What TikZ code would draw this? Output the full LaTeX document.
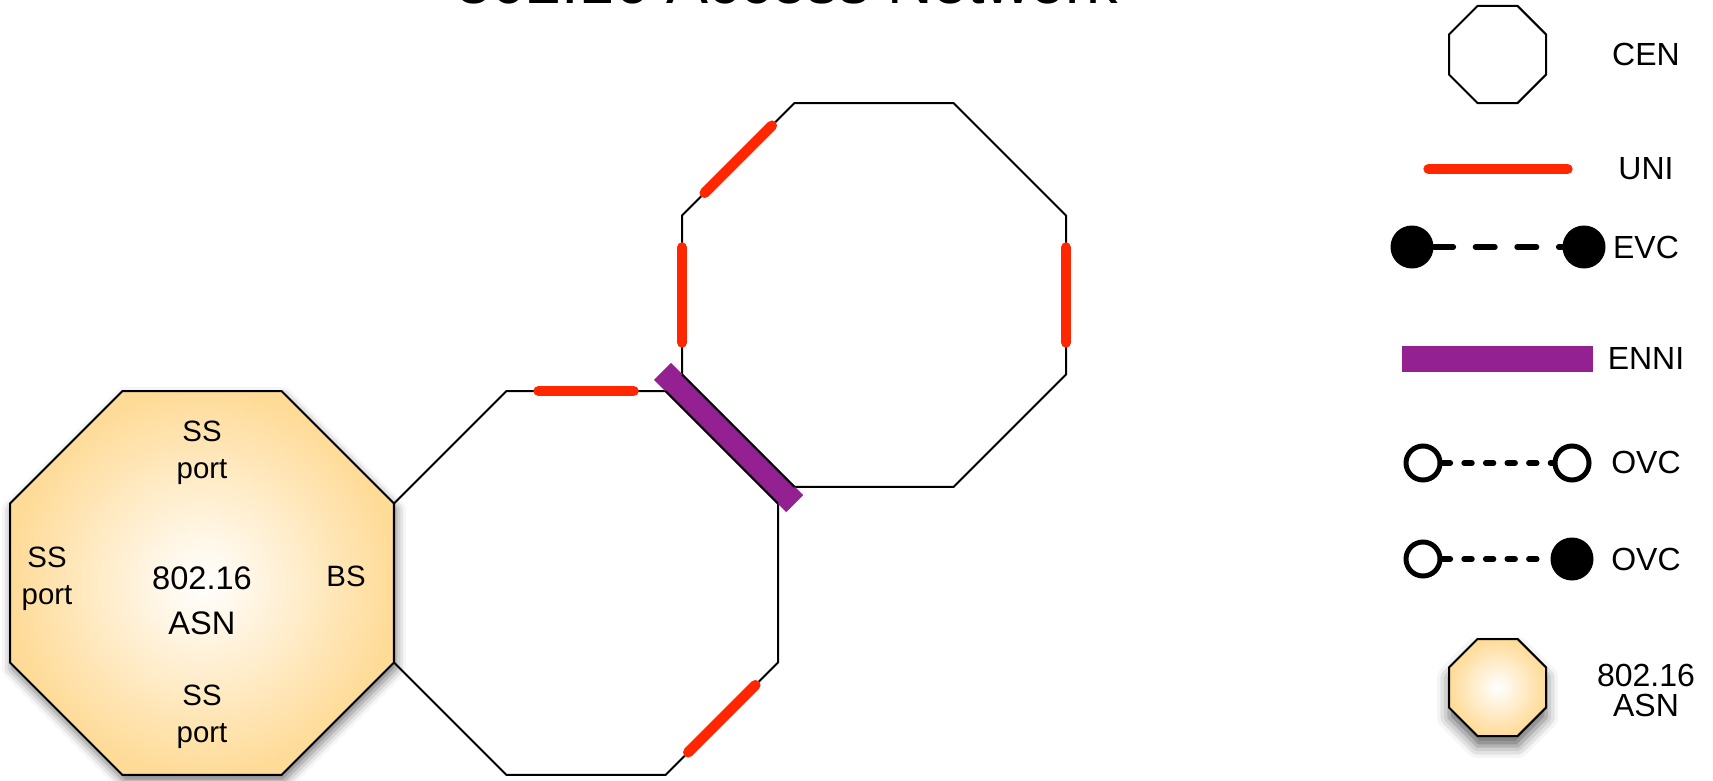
\documentclass[tikz,border=0pt]{standalone}
\usepackage{fontspec}
\setmainfont{Liberation Sans}
\usetikzlibrary{arrows.meta,positioning,calc,shapes.geometric,shadows.blur}

\definecolor{unired}{RGB}{255,38,0}
\definecolor{ennipurple}{RGB}{148,33,146}
\definecolor{asnorange}{RGB}{255,219,152}

\begin{document}
\begin{tikzpicture}[
  x=0.5pt, y=-0.5pt,
  cen/.style={regular polygon, regular polygon sides=8, draw=black,
    line width=1pt, inner sep=0pt, outer sep=0pt, minimum size=#1},
  cen/.default=207.8pt,
  asn/.style={cen=#1, shading=radial, inner color=white,
    outer color=asnorange},
  asn/.default=207.8pt,
  uni/.style={draw=unired, line width=5.2pt, line cap=round},
  onedge/.style={shorten <=16pt, shorten >=16pt},
  enni/.style={draw=ennipurple, line width=12pt},
  evcdot/.style={circle, fill=black, inner sep=0pt, minimum size=21.5pt},
  ovcring/.style={circle, draw=black, fill=white, line width=2.5pt,
    inner sep=0pt, minimum size=17pt},
  ovcdot/.style={circle, fill=black, inner sep=0pt, minimum size=21.5pt},
  evcline/.style={line width=2.8pt, line cap=round,
    dash pattern=on 9.7pt off 11.1pt},
  ovcline/.style={line width=2.8pt, line cap=round,
    dash pattern=on 3.9pt off 6.9pt},
  portlbl/.style={align=center, inner sep=0pt,
    font=\fontsize{14.7}{18.3}\selectfont},
  asnlbl/.style={align=center, inner sep=0pt,
    font=\fontsize{16.3}{22.5}\selectfont},
  keylbl/.style={align=center, inner sep=0pt,
    font=\fontsize{16}{15}\selectfont}
]
  \clip (0,0) rectangle (1713,781);
  \node[anchor=base, inner sep=0pt, font=\fontsize{31.5}{36}\selectfont]
    (title) at (787.5,4) {802.16 Access Network};

  \node[asn, blur shadow={shadow xshift=1pt, shadow yshift=-3pt,
    shadow blur radius=5pt, shadow opacity=55}] (asn) at (202,583) {};
  \node[cen, right=0pt of asn] (mid) {};
  \node[cen] (top) at ([shift={(288,-288)}]mid.center) {};

  \node[asnlbl] (asnname) at ([shift={(0,18)}]asn.center) {802.16\\ASN};
  \node[portlbl] (sstop) at ([shift={(0,-130)}]asn.center) {SS\\port};
  \node[portlbl] (ssleft) at ([shift={(-155,-4)}]asn.center) {SS\\port};
  \node[portlbl] (ssbot) at ([shift={(0,134)}]asn.center) {SS\\port};
  \node[portlbl] (bs) at ([shift={(144,-7)}]asn.center) {BS};

  \draw[enni, shorten <=-8pt, shorten >=-6pt]
    ($(mid.corner 1)!0.5!(top.corner 4)$) -- ($(mid.corner 8)!0.5!(top.corner 5)$);
  \draw[black, line width=1pt] (mid.corner 8) -- (mid.corner 1);
  \draw[black, line width=1pt] (top.corner 4) -- (top.corner 5);

  \draw[uni, onedge] (mid.corner 1) -- (mid.corner 2);
  \draw[uni, onedge] (mid.corner 6) -- (mid.corner 7);
  \draw[uni, onedge] (top.corner 2) -- (top.corner 3);
  \draw[uni, onedge] (top.corner 3) -- (top.corner 4);
  \draw[uni, onedge] (top.corner 7) -- (top.corner 8);

  \node[cen=52.5pt] (keycen) at (1497.5,54.5) {};
  \node[keylbl] (keycenlbl) at (1646,54.5) {CEN};

  \coordinate (uni1) at (1428.5,169);
  \coordinate (uni2) at (1567.5,169);
  \draw[uni] (uni1) -- (uni2);
  \node[keylbl] (unilbl) at (1646,169) {UNI};

  \node[evcdot] (evc1) at (1412,247) {};
  \node[evcdot] (evc2) at (1584,247) {};
  \draw[evcline] (evc1) -- (evc2);
  \node[keylbl] (evclbl) at (1646,247) {EVC};

  \coordinate (enni1) at (1402,359);
  \coordinate (enni2) at (1593,359);
  \draw[line width=13pt, draw=ennipurple] (enni1) -- (enni2);
  \node[keylbl] (ennilbl) at (1646,358.5) {ENNI};

  \node[ovcring] (ovca1) at (1423,463) {};
  \node[ovcring] (ovca2) at (1572,463) {};
  \draw[ovcline] (ovca1) -- (ovca2);
  \node[keylbl] (ovcalbl) at (1646,462.5) {OVC};

  \node[ovcring] (ovcb1) at (1423,559) {};
  \node[ovcdot] (ovcb2) at (1572,559) {};
  \draw[ovcline] (ovcb1) -- (ovcb2);
  \node[keylbl] (ovcblbl) at (1646,559) {OVC};

  \node[asn=52.5pt, blur shadow={shadow xshift=0pt, shadow yshift=-5pt,
    shadow blur radius=6pt, shadow opacity=60}] (keyasn) at (1497.5,687.5) {};
  \node[keylbl] (keyasnlbl) at (1646,690) {802.16\\ASN};
\end{tikzpicture}
\end{document}
